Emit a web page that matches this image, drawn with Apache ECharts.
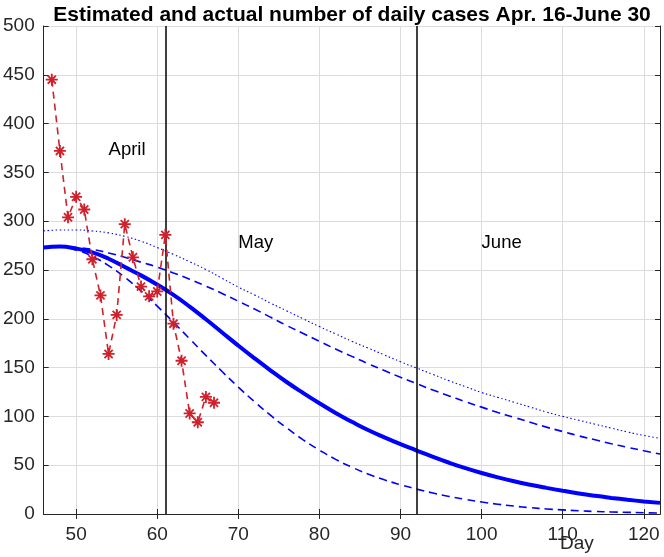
<!DOCTYPE html>
<html>
<head>
<meta charset="utf-8">
<script src="https://cdn.jsdelivr.net/npm/echarts@6/dist/echarts.min.js"></script>
<style>html,body{margin:0;padding:0;background:#fff}#c{width:664px;height:557px}</style>
</head>
<body>
<div id="c"></div>
<script>
// Actual daily cases (day number, count)
var actualDays = [47,48,49,50,51,52,53,54,55,56,57,58,59,60,61,62,63,64,65,66,67];
var actualCases = [445,372,304,325,312,261,224,164,204,297,263,233,223,228,286,195,157,103,94,120,114];

// Model curves sampled every 2 days
var curveDays = [46,48,50,52,54,56,58,60,62,64,66,68,70,72,74,76,78,80,82,84,86,88,90,92,94,96,98,100,102,104,106,108,110,112,114,116,118,120,122];
var estimateMain = [273,274,272,268,261.5,253,244.5,235,224.5,212.5,199.5,186,172.5,159.5,147,135,124,113.5,103.5,94.5,86,78.5,71.5,65,58.5,52.5,47,42,37.5,33.5,30,26.8,23.8,21,18.6,16.5,14.6,12.9,11.4];
var estimateUpper = [273,274,273,271,267.5,263,258,253,247,240.5,233.5,226,218,210,201.5,193,185,177,169,161.5,154,147,140,133.5,127,121,115,109.5,104,99,94,89,84.5,80,76,72,68.3,64.8,61.5];
var estimateLower = [273,274,270.5,264,254.5,242.5,228.5,213,196.5,179.5,162.5,146,130,115,101,88,76,65.5,56,48,41,35,30,25.5,21.5,18,15,12.3,10,8.1,6.5,5.2,4.2,3.3,2.6,2.1,1.7,1.3,1.0];
var estimateDotted = [290,291,291,290,288,284.5,279.5,273,266,258.5,250.5,241.5,232.5,224.5,216,208,200,192,184.5,177,170,163,156,149.5,143,136.5,130.5,124.5,119.5,114.5,109.5,104.5,100,96,92,88,84,80.5,77.5];

var monthBoundaries = [61, 92];
var monthLabels = [
  {name: 'April', x: 54, y: 373},
  {name: 'May', x: 70, y: 278},
  {name: 'June', x: 100, y: 278}
];
var xTicks = [50,60,70,80,90,100,110,120];

function pairs(xs, ys){ return xs.map(function(x,i){ return [x, ys[i]]; }); }

var AX = '#262626';
var FONT = 'Liberation Sans, Arial, sans-serif';
var RED = '#d0202a';
var BLUE = '#0000ff';
var ast = 'path://M5,0L5,10M0,5L10,5M1.6,1.6L8.4,8.4M1.6,8.4L8.4,1.6';

var chart = echarts.init(document.getElementById('c'), null, {renderer: 'canvas'});
var xBase = {
  type: 'value', min: 46, max: 122,
  axisLine: {show: true, lineStyle: {color: AX, width: 1}},
  axisTick: {show: true, inside: true, length: 5, customValues: xTicks, lineStyle: {color: AX}},
  splitLine: {show: false}
};
var yBase = {
  type: 'value', min: 0, max: 500, interval: 50,
  axisLine: {show: true, lineStyle: {color: AX, width: 1}},
  axisTick: {show: true, inside: true, length: 5, lineStyle: {color: AX}},
  splitLine: {show: false}
};
chart.setOption({
  animation: false,
  backgroundColor: '#fff',
  title: {
    text: 'Estimated and actual number of daily cases Apr. 16-June 30',
    left: 347, top: 0, textAlign: 'center',
    textStyle: {fontFamily: FONT, fontWeight: 'bold', fontSize: 21, color: '#000'}
  },
  grid: {left: 41, right: 4, top: 26, bottom: 43, containLabel: false},
  xAxis: [
    Object.assign({}, xBase, {
      position: 'bottom',
      axisLabel: {show: true, customValues: xTicks, fontFamily: FONT, fontSize: 19, color: AX, margin: 11},
      splitLine: {show: true, lineStyle: {color: '#dcdcdc', width: 1}}
    }),
    Object.assign({}, xBase, {position: 'top', axisLabel: {show: false}})
  ],
  yAxis: [
    Object.assign({}, yBase, {
      position: 'left',
      axisLabel: {show: true, fontFamily: FONT, fontSize: 19, color: AX, margin: 9},
      splitLine: {show: true, lineStyle: {color: '#dcdcdc', width: 1}}
    }),
    Object.assign({}, yBase, {position: 'right', axisLabel: {show: false}})
  ],
  graphic: [{
    type: 'text', left: 560, top: 534,
    style: {text: 'Day', fontFamily: FONT, fontSize: 19, fill: AX}
  }],
  series: [
    {
      type: 'line', data: pairs(curveDays, estimateDotted), smooth: true, showSymbol: false,
      lineStyle: {color: BLUE, width: 1.1, type: [1.5, 2.5]}, z: 3
    },
    {
      type: 'line', data: pairs(curveDays, estimateUpper), smooth: true, showSymbol: false,
      lineStyle: {color: BLUE, width: 1.6, type: [8, 5]}, z: 3
    },
    {
      type: 'line', data: pairs(curveDays, estimateLower), smooth: true, showSymbol: false,
      lineStyle: {color: BLUE, width: 1.6, type: [8, 5]}, z: 3
    },
    {
      type: 'line', data: pairs(curveDays, estimateMain), smooth: true, showSymbol: false,
      lineStyle: {color: BLUE, width: 4}, z: 4
    },
    {
      type: 'line', data: pairs(actualDays, actualCases), smooth: false,
      symbol: ast, symbolSize: 12, showSymbol: true,
      itemStyle: {color: RED, borderColor: RED, borderWidth: 1.8},
      lineStyle: {color: RED, width: 1.6, type: [7, 5]}, z: 5
    },
    {
      type: 'scatter', symbolSize: 0, silent: true,
      data: monthLabels.map(function(m){ return {name: m.name, value: [m.x, m.y]}; }),
      label: {show: true, position: 'right', distance: 0, formatter: '{b}',
        fontFamily: FONT, fontSize: 18.5, color: '#000', opacity: 1},
      markLine: {
        silent: true, symbol: 'none', label: {show: false},
        lineStyle: {color: '#000', width: 1.5, type: 'solid'},
        data: monthBoundaries.map(function(d){ return {xAxis: d}; })
      },
      z: 6
    }
  ]
});
</script>
</body>
</html>
